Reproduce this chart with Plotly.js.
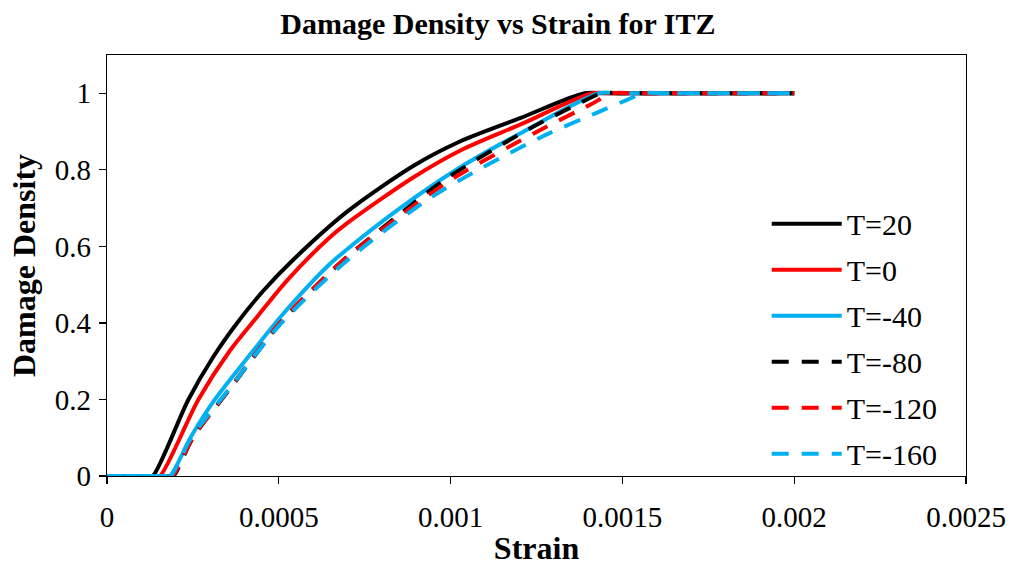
<!DOCTYPE html>
<html><head><meta charset="utf-8">
<script src="https://cdn.plot.ly/plotly-3.0.1.min.js"></script>
<style>html,body{margin:0;padding:0;background:#fff}</style>
</head><body><div id="chart" style="width:1012px;height:570px"></div>
<script>
// Series names
const seriesNames = ["T=20", "T=0", "T=-40", "T=-80", "T=-120", "T=-160"];

// Strain / damage density readings per series
const strainT20 = [0, 0.00012, 0.000133, 0.000237, 0.000309, 0.000377, 0.000455, 0.000542, 0.000698, 0.000891, 0.001027, 0.001202, 0.00139, 0.00145, 0.002];
const damageT20 = [0, 0, 0, 0.2, 0.311, 0.398, 0.484, 0.565, 0.690, 0.810, 0.874, 0.935, 1, 1, 1];

const strainT0 = [0, 0.00014, 0.000154, 0.000266, 0.000358, 0.000436, 0.000523, 0.000644, 0.000698, 0.000891, 0.001027, 0.001202, 0.001412, 0.00147, 0.002];
const damageT0 = [0, 0, 0, 0.2, 0.328, 0.415, 0.51, 0.62, 0.66, 0.78, 0.85, 0.918, 1, 1, 1];

const strainTm40 = [0, 0.00017, 0.000183, 0.000246, 0.000314, 0.000426, 0.000513, 0.000644, 0.000698, 0.000853, 0.001027, 0.001202, 0.001432, 0.00149, 0.002];
const damageTm40 = [0, 0, 0, 0.105, 0.2, 0.328, 0.424, 0.55, 0.592, 0.70, 0.806, 0.895, 1, 1, 1];

const strainTm80 = [0, 0.00018, 0.000193, 0.00025, 0.000358, 0.000503, 0.000629, 0.000698, 0.000891, 0.000989, 0.001231, 0.001396, 0.001438, 0.0015, 0.002];
const damageTm80 = [0, 0, 0, 0.1, 0.228, 0.398, 0.515, 0.572, 0.712, 0.778, 0.908, 0.983, 1, 1, 1];

const strainTm120 = [0, 0.000177, 0.00019, 0.00025, 0.000358, 0.000503, 0.000629, 0.000698, 0.000891, 0.001008, 0.00125, 0.001406, 0.00147, 0.00153, 0.002];
const damageTm120 = [0, 0, 0, 0.1, 0.23, 0.4, 0.515, 0.572, 0.705, 0.778, 0.899, 0.970, 1, 1, 1];

const strainTm160 = [0, 0.000172, 0.000185, 0.000245, 0.000358, 0.000503, 0.000698, 0.00095, 0.00126, 0.001425, 0.001517, 0.00156, 0.00162, 0.002];
const damageTm160 = [0, 0, 0, 0.1, 0.23, 0.395, 0.5625, 0.732, 0.884, 0.949, 0.984, 1, 1, 1];

// Axis ticks
const xTickVals = [0, 0.0005, 0.001, 0.0015, 0.002, 0.0025];
const xTickText = ["0", "0.0005", "0.001", "0.0015", "0.002", "0.0025"];
const yTickVals = [0, 0.2, 0.4, 0.6, 0.8, 1];
const yTickText = ["0", "0.2", "0.4", "0.6", "0.8", "1"];

const xs = [strainT20, strainT0, strainTm40, strainTm80, strainTm120, strainTm160];
const ys = [damageT20, damageT0, damageTm40, damageTm80, damageTm120, damageTm160];
const colors = ["#000000", "#FF0000", "#00B0F0", "#000000", "#FF0000", "#00B0F0"];
const dashes = ["solid", "solid", "solid", "17px,13px", "17px,13px", "17px,13px"];

const FONT = "Liberation Serif, Times New Roman, serif";

const traces = seriesNames.map((name, i) => ({
  type: "scatter",
  mode: "lines",
  name: name,
  x: xs[i],
  y: ys[i],
  legendgroup: "g" + i,
  line: {color: colors[i], width: 4, dash: dashes[i], shape: "spline", smoothing: 0.8},
  hoverinfo: "x+y+name"
}));

const layout = {
  width: 1012, height: 570,
  paper_bgcolor: "#ffffff", plot_bgcolor: "#ffffff",
  margin: {l: 107, r: 46, t: 55, b: 94},
  title: {text: "<b>Damage Density vs Strain for ITZ</b>", font: {family: FONT, size: 30, color: "#000"}, x: 0.492, xanchor: "center", y: 0.958, yanchor: "middle"},
  font: {family: FONT, color: "#000"},
  xaxis: {
    range: [0, 0.0025], tickvals: xTickVals, ticktext: xTickText,
    showgrid: false, zeroline: false, showline: true, linecolor: "#000", linewidth: 1.3, mirror: true,
    ticks: "outside", ticklen: 7, tickcolor: "#000", tickwidth: 1.3,
    ticklabelstandoff: 8,
    tickfont: {family: FONT, size: 29, color: "#000"},
    title: {text: "<b>Strain</b>", font: {family: FONT, size: 32, color: "#000"}, standoff: 4}
  },
  yaxis: {
    range: [0, 1.1], tickvals: yTickVals, ticktext: yTickText,
    showgrid: false, zeroline: false, showline: true, linecolor: "#000", linewidth: 1.3, mirror: true,
    ticks: "outside", ticklen: 7, tickcolor: "#000", tickwidth: 1.3,
    ticklabelstandoff: 2,
    tickfont: {family: FONT, size: 29, color: "#000"},
    title: {text: "<b>Damage Density</b>", font: {family: FONT, size: 32, color: "#000"}, standoff: 9}
  },
  showlegend: true,
  legend: {
    x: 0.768, xanchor: "left", y: 0.661, yanchor: "top",
    bgcolor: "rgba(0,0,0,0)", borderwidth: 0,
    font: {family: FONT, size: 30, color: "#000"},
    itemwidth: 70, tracegroupgap: 4, traceorder: "grouped"
  }
};

Plotly.newPlot("chart", traces, layout, {displayModeBar: false, staticPlot: true});
</script>
</body></html>
